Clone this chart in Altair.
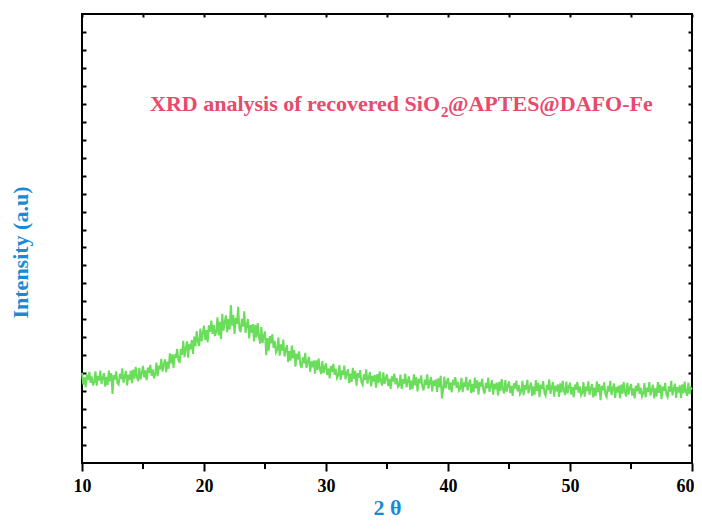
import altair as alt
import numpy as np
import pandas as pd

# Intensity, one value every 0.1 degree of 2-theta
seg_10_20 = [502, 437, 477, 422, 492, 462, 507, 447, 482, 432,
             450, 510, 430, 485, 460, 515, 440, 475, 500, 425,
             480, 435, 515, 455, 500, 385, 490, 465, 510, 445,
             437, 497, 467, 527, 447, 482, 512, 432, 492, 462,
             515, 445, 520, 470, 535, 480, 455, 530, 465, 500,
             541, 476, 516, 461, 531, 501, 546, 486, 521, 471,
             495, 559, 483, 542, 521, 580, 509, 548, 577, 506,
             565, 525, 610, 555, 605, 530, 605, 585, 635, 575,
             557, 634, 603, 680, 589, 636, 677, 586, 663, 632,
             685, 607, 704, 650, 735, 675, 652, 748, 677, 725]
seg_20_30 = [765, 685, 740, 672, 766, 731, 793, 719, 768, 707,
             729, 811, 710, 786, 690, 831, 737, 786, 822, 729,
             801, 742, 880, 765, 823, 718, 808, 774, 870, 747,
             728, 802, 759, 845, 725, 767, 802, 694, 768, 724,
             773, 677, 769, 699, 779, 702, 665, 757, 668, 708,
             732, 600, 695, 625, 706, 666, 717, 641, 680, 616,
             631, 699, 598, 660, 626, 687, 593, 631, 656, 562,
             623, 570, 654, 583, 628, 536, 609, 576, 622, 547,
             530, 588, 555, 613, 530, 563, 591, 508, 566, 533,
             571, 498, 571, 518, 581, 523, 495, 568, 500, 533]
seg_30_40 = [555, 489, 527, 471, 540, 508, 552, 491, 524, 473,
             487, 545, 463, 516, 489, 542, 466, 499, 522, 445,
             498, 452, 530, 469, 513, 431, 500, 474, 517, 451,
             435, 494, 463, 522, 442, 477, 506, 426, 485, 454,
             490, 420, 495, 445, 510, 455, 430, 505, 440, 475,
             493, 428, 468, 413, 483, 453, 498, 438, 473, 423,
             432, 492, 412, 467, 442, 497, 422, 457, 482, 407,
             458, 413, 493, 433, 478, 398, 468, 443, 488, 423,
             404, 464, 434, 494, 414, 449, 479, 399, 459, 429,
             466, 396, 471, 421, 486, 360, 406, 481, 416, 451]
seg_40_50 = [473, 408, 448, 393, 463, 433, 478, 418, 453, 403,
             414, 474, 394, 449, 424, 479, 404, 439, 464, 389,
             440, 395, 475, 415, 460, 380, 450, 425, 470, 405,
             386, 446, 416, 476, 396, 431, 461, 381, 441, 411,
             447, 377, 452, 402, 467, 412, 387, 462, 397, 432,
             454, 389, 429, 374, 444, 414, 459, 399, 434, 384,
             398, 458, 378, 433, 408, 463, 388, 423, 448, 373,
             426, 381, 461, 401, 446, 366, 436, 411, 456, 391,
             375, 435, 405, 465, 385, 420, 450, 370, 430, 400,
             438, 368, 443, 393, 458, 403, 378, 453, 388, 423]
seg_50_60 = [447, 382, 422, 367, 437, 407, 452, 392, 427, 377,
             390, 450, 370, 425, 400, 455, 380, 415, 440, 365,
             419, 374, 454, 394, 439, 350, 429, 404, 449, 384,
             368, 428, 398, 458, 378, 413, 443, 363, 423, 393,
             431, 361, 436, 386, 451, 396, 371, 446, 381, 416,
             440, 375, 415, 360, 430, 400, 445, 385, 420, 370,
             385, 445, 365, 420, 395, 450, 375, 410, 435, 360,
             416, 371, 451, 391, 436, 356, 426, 401, 446, 381,
             367, 427, 397, 457, 377, 412, 442, 362, 422, 392,
             433, 363, 438, 388, 453, 398, 373, 448, 383, 418]
last_value = [410]

intensity = seg_10_20 + seg_20_30 + seg_30_40 + seg_40_50 + seg_50_60 + last_value
theta = np.round(np.linspace(10, 60, len(intensity)), 1)

x_major = [10, 20, 30, 40, 50, 60]
x_minor = [15, 25, 35, 45, 55]
x_all = [10, 15, 20, 25, 30, 35, 40, 45, 50, 55, 60]
y_ticks = list(range(100, 2500, 100))
title_parts = ["XRD analysis of recovered SiO", "2", "@APTES@DAFO-Fe"]

df = pd.DataFrame({"theta": theta, "intensity": intensity})
minor_df = pd.DataFrame({"theta": x_minor})

SERIF = "Liberation Serif"
BLUE = "#1a8ad4"
GREEN = "#6ade5b"
PINK = "#e9496d"

xs = alt.Scale(domain=[10, 60], nice=False, zero=False)
ys = alt.Scale(domain=[0, 2500], nice=False, zero=False)

line = alt.Chart(df).mark_line(color=GREEN, strokeWidth=2).encode(
    x=alt.X("theta:Q", scale=xs, axis=alt.Axis(
        orient="bottom", values=x_major, tickSize=8, tickWidth=2, tickColor="black",
        domain=False, grid=False, labelFont=SERIF, labelFontSize=18, labelFontWeight="bold",
        labelColor="black", labelPadding=6, labelFlush=False, labelOverlap=False,
        labelOffset={"condition": {"test": "datum.value >= 60", "value": -7}, "value": 0},
        title="2 θ", titleFont=SERIF, titleFontSize=22,
        titleFontWeight="bold", titleColor=BLUE, titleY=51, titleBaseline="alphabetic")),
    y=alt.Y("intensity:Q", scale=ys, axis=alt.Axis(
        orient="left", values=y_ticks, tickSize=4, tickWidth=2, tickColor="black", offset=-4,
        domain=False, grid=False, labels=False, title="Intensity (a.u)", titleFont=SERIF,
        titleFontSize=22, titleFontWeight="bold", titleColor=BLUE, titleX=-54, titleY=238,
        titleAngle=-90, titleBaseline="bottom", titleAlign="center")),
)

mirror = alt.Chart(df).mark_line(opacity=0).encode(
    x=alt.X("theta:Q", scale=xs, axis=alt.Axis(
        orient="top", values=x_all, tickSize=3, tickWidth=2, tickColor="black", offset=-3,
        domain=False, grid=False, labels=False, title=None)),
    y=alt.Y("intensity:Q", scale=ys, axis=alt.Axis(
        orient="right", values=y_ticks, tickSize=4, tickWidth=2, tickColor="black", offset=-4,
        domain=False, grid=False, labels=False, title=None)),
)

minor = alt.Chart(minor_df).mark_rule(color="black", strokeWidth=2).encode(
    x=alt.X("theta:Q", scale=xs, axis=None),
    y=alt.value(449),
    y2=alt.value(455),
)

one = pd.DataFrame({"k": [0]})
t1 = alt.Chart(one).mark_text(font=SERIF, fontSize=22, fontWeight="bold", color=PINK,
                              align="left", baseline="alphabetic").encode(
    x=alt.value(68), y=alt.value(97), text=alt.value(title_parts[0]))
t2 = alt.Chart(one).mark_text(font=SERIF, fontSize=15, fontWeight="bold", color=PINK,
                              align="left", baseline="alphabetic").encode(
    x=alt.value(359), y=alt.value(103), text=alt.value(title_parts[1]))
t3 = alt.Chart(one).mark_text(font=SERIF, fontSize=22, fontWeight="bold", color=PINK,
                              align="left", baseline="alphabetic").encode(
    x=alt.value(366), y=alt.value(97), text=alt.value(title_parts[2]))

chart = alt.layer(line, mirror, minor, t1, t2, t3).resolve_scale(
    x="shared", y="shared").resolve_axis(x="independent", y="independent").properties(
    width=610, height=449,
    autosize=alt.AutoSizeParams(type="none"),
    padding={"left": 74, "top": 6, "right": 2, "bottom": 58},
    background="white",
).configure_view(stroke="black", strokeWidth=2)

chart.save("out.html", embed_options={"renderer": "svg", "actions": False})
